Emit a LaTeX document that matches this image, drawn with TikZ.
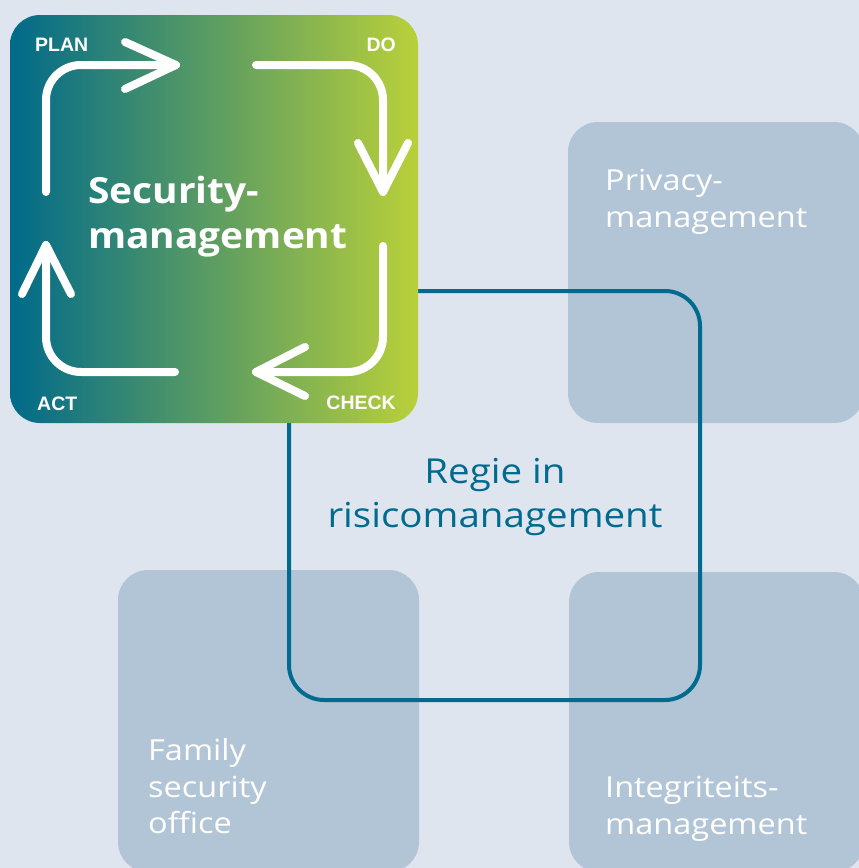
\documentclass[tikz,border=0pt]{standalone}
\usepackage{fontspec}
\setmainfont[FakeStretch=1.12]{Open Sans}
\newfontfamily\headfont[FakeStretch=1.08]{Open Sans}
\newfontfamily\labelfont{Liberation Sans}
\usetikzlibrary{positioning}

\definecolor{pagebg}{HTML}{DEE5EE}
\definecolor{tilegrey}{HTML}{B2C5D7}
\definecolor{regieblue}{HTML}{006B8E}
\definecolor{gradleft}{HTML}{006A8A}
\definecolor{gradmid}{HTML}{5C9A78}
\definecolor{gradright}{HTML}{B9D03A}

\tikzset{
  tile/.style={fill=tilegrey, rounded corners=30pt, inner sep=0pt, outer sep=0pt, draw=none},
  pdcabox/.style={rounded corners=30pt, inner sep=0pt, outer sep=0pt, draw=none,
    left color=gradleft, middle color=gradmid, right color=gradright},
  regieframe/.style={draw=regieblue, line width=4pt, rounded corners=35pt, inner sep=0pt, outer sep=0pt},
  cycleline/.style={draw=white, line width=8pt, line cap=round, line join=round, rounded corners=35pt},
  chevron/.style={draw=white, line width=8pt, line cap=round, line join=round},
  phase/.style={text=white, font=\labelfont\bfseries\fontsize{19.5}{22}\selectfont, inner sep=0pt},
  tiletext/.style={text=white, font=\fontsize{29}{34}\selectfont, inner sep=0pt, anchor=base west},
  sectext/.style={text=white, font=\headfont\bfseries\fontsize{36}{42}\selectfont, inner sep=0pt, anchor=base west},
  regietext/.style={text=regieblue, font=\fontsize{34.4}{39}\selectfont, inner sep=0pt, anchor=base},
}

\begin{document}
\begin{tikzpicture}[x=1pt, y=-1pt]
  % page background
  \fill[pagebg] (0,0) rectangle (859,868);
  \useasboundingbox (0,0) rectangle (859,868);
  \clip (0,0) rectangle (859,868);

  % surrounding tiles
  \node[tile, minimum width=296pt, minimum height=301pt] (privacy) at (716,272.5) {};
  \node[tile, minimum width=301pt, minimum height=302pt] (family) at (268.5,721) {};
  \node[tile, minimum width=295pt, minimum height=300pt] (integ) at (716.5,722) {};

  % frame of the central governance square
  \node[regieframe, minimum width=411pt, minimum height=409pt] (regie) at (494.5,495.5) {};

  % tile labels
  \node[tiletext] (privA) at (605,190) {Privacy-};
  \node[tiletext] (privB) at (605,227) {management};
  \node[tiletext] (famA) at (148,760) {Family};
  \node[tiletext] (famB) at (148,797) {security};
  \node[tiletext] (famC) at (148,833) {office};
  \node[tiletext] (intA) at (605,797) {Integriteits-};
  \node[tiletext] (intB) at (605,834) {management};

  % governance label
  \node[regietext] (regA) at (495,483) {Regie in};
  \node[regietext] (regB) at (495,527) {risicomanagement};

  % security management box with PDCA cycle
  \node[pdcabox, minimum width=408pt, minimum height=408pt] (security) at (214,219) {};

  % plan -> do
  \draw[cycleline] (46,192) -- (46,65) -- (176,65);
  \draw[chevron] (125,42) -- (176,65) -- (125,89);
  % do -> check
  \draw[cycleline] (256,65) -- (383,65) -- (383,192);
  \draw[chevron] (358,143) -- (383,192) -- (408,143);
  % check -> act
  \draw[cycleline] (383,246) -- (383,372) -- (256,372);
  \draw[chevron] (305,347) -- (256,372) -- (305,396);
  % act -> plan
  \draw[cycleline] (175,372) -- (46,372) -- (46,245);
  \draw[chevron] (22,294) -- (46,245) -- (71,294);

  \node[phase, anchor=base west] (plan) at (35,51) {PLAN};
  \node[phase, anchor=base east] (do) at (396,51) {DO};
  \node[phase, anchor=base west] (act) at (37,410) {ACT};
  \node[phase, anchor=base east] (check) at (396,409) {CHECK};

  \node[sectext] (secA) at (88,203) {Security-};
  \node[sectext] (secB) at (88,248) {management};
\end{tikzpicture}
\end{document}
